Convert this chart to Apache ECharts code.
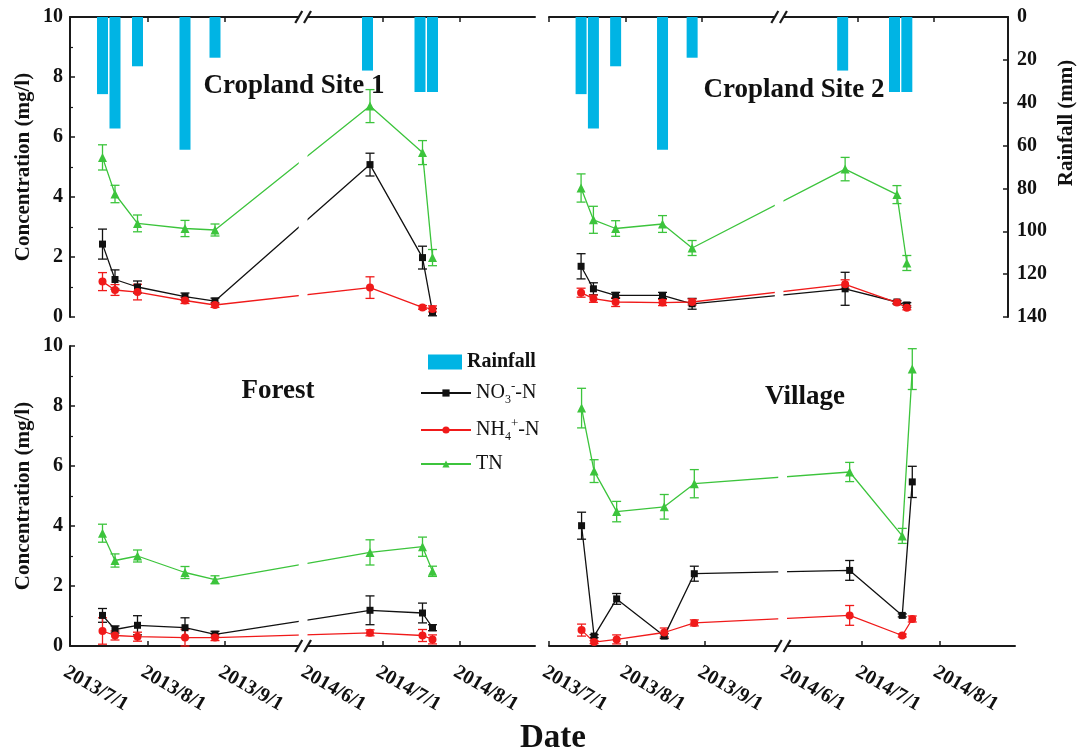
<!DOCTYPE html>
<html><head><meta charset="utf-8">
<script src="https://cdn.jsdelivr.net/npm/echarts@6/dist/echarts.min.js"></script>
<style>html,body{margin:0;padding:0;background:#fff}#c{width:1077px;height:753px}</style>
</head><body><div id="c"></div>
<script>
// ---------------- data ----------------
const SAMPLE_DATES = ['2013/7/14','2013/7/19','2013/7/28','2013/8/16','2013/8/28','2014/6/26','2014/7/17','2014/7/21'];
const RAIN_DATES   = ['2013/7/14','2013/7/19','2013/7/28','2013/8/16','2013/8/28','2014/6/25','2014/7/16','2014/7/21'];
const RAINFALL     = [36, 52, 23, 62, 19, 25, 35, 35];
const TICK_LABELS  = ['2013/7/1','2013/8/1','2013/9/1','2014/6/1','2014/7/1','2014/8/1'];
const TICK_MARKS   = ['2013/7/1','2013/8/1','2013/9/1','2014/7/1','2014/8/1'];
const AXIS_START = '2013/7/1', AXIS_END = '2014/8/31';
const BREAK_FROM = '2013/10/1', BREAK_TO = '2014/6/1', BREAK_GAP_DAYS = 3;
const PANEL_TITLES = ['Cropland Site 1','Cropland Site 2','Forest','Village'];

// Cropland Site 1
const C1_NO3 = [2.43, 1.25, 1.00, 0.68, 0.53, 5.08, 1.98, 0.16];
const C1_NO3_ERR = [0.50, 0.32, 0.20, 0.12, 0.10, 0.38, 0.38, 0.12];
const C1_NH4 = [1.18, 0.90, 0.83, 0.55, 0.40, 0.98, 0.32, 0.27];
const C1_NH4_ERR = [0.30, 0.18, 0.26, 0.10, 0.08, 0.36, 0.06, 0.10];
const C1_TN = [5.32, 4.10, 3.12, 2.95, 2.90, 7.03, 5.48, 1.98];
const C1_TN_ERR = [0.42, 0.29, 0.28, 0.27, 0.20, 0.55, 0.40, 0.27];
// Cropland Site 2
const C2_NO3 = [1.69, 0.94, 0.72, 0.72, 0.44, 0.94, 0.50, 0.40];
const C2_NO3_ERR = [0.42, 0.20, 0.10, 0.10, 0.18, 0.55, 0.05, 0.08];
const C2_NH4 = [0.81, 0.61, 0.50, 0.48, 0.50, 1.09, 0.48, 0.31];
const C2_NH4_ERR = [0.15, 0.12, 0.15, 0.10, 0.10, 0.15, 0.05, 0.07];
const C2_TN = [4.30, 3.24, 2.95, 3.10, 2.30, 4.93, 4.08, 1.80];
const C2_TN_ERR = [0.47, 0.45, 0.26, 0.28, 0.25, 0.39, 0.30, 0.25];
// Forest
const FO_NO3 = [1.02, 0.55, 0.69, 0.61, 0.39, 1.19, 1.10, 0.61];
const FO_NO3_ERR = [0.23, 0.12, 0.32, 0.33, 0.10, 0.48, 0.33, 0.10];
const FO_NH4 = [0.50, 0.35, 0.31, 0.28, 0.28, 0.44, 0.35, 0.22];
const FO_NH4_ERR = [0.44, 0.15, 0.15, 0.28, 0.10, 0.10, 0.20, 0.15];
const FO_TN = [3.76, 2.85, 3.00, 2.45, 2.21, 3.12, 3.31, 2.49];
const FO_TN_ERR = [0.30, 0.22, 0.20, 0.20, 0.13, 0.42, 0.32, 0.17];
// Village
const VI_NO3 = [4.01, 0.33, 1.57, 0.33, 2.41, 2.52, 1.02, 5.47];
const VI_NO3_ERR = [0.45, 0.05, 0.18, 0.08, 0.25, 0.33, 0.05, 0.52];
const VI_NH4 = [0.53, 0.13, 0.22, 0.45, 0.77, 1.02, 0.35, 0.90];
const VI_NH4_ERR = [0.20, 0.05, 0.15, 0.15, 0.10, 0.33, 0.05, 0.10];
const VI_TN = [7.93, 5.83, 4.48, 4.64, 5.41, 5.80, 3.67, 9.23];
const VI_TN_ERR = [0.66, 0.38, 0.34, 0.41, 0.47, 0.32, 0.25, 0.68];

// ---------------- helpers ----------------
const FONT = "'Liberation Serif', 'Times New Roman', serif";
function dayNum(s){ const p = s.split('/').map(Number); return Date.UTC(p[0], p[1]-1, p[2]) / 86400000; }
function toAxis(s){
  const t = dayNum(s), s0 = dayNum(AXIS_START), bf = dayNum(BREAK_FROM), bt = dayNum(BREAK_TO);
  if (t <= bf) return t - s0;
  return (bf - s0) + BREAK_GAP_DAYS + (t - bt);
}
const labelByPos = {};
TICK_LABELS.forEach(l => { labelByPos[Math.round(toAxis(l))] = l; });

const COLORS = { NO3: '#111111', NH4: '#f01a1a', TN: '#3cc43c', RAIN: '#00b4e4' };
const SYMBOLS = { NO3: ['rect', 7], NH4: ['circle', 8], TN: ['triangle', 9] };
const PANELS = [
  { NO3: [C1_NO3, C1_NO3_ERR], NH4: [C1_NH4, C1_NH4_ERR], TN: [C1_TN, C1_TN_ERR] },
  { NO3: [C2_NO3, C2_NO3_ERR], NH4: [C2_NH4, C2_NH4_ERR], TN: [C2_TN, C2_TN_ERR] },
  { NO3: [FO_NO3, FO_NO3_ERR], NH4: [FO_NH4, FO_NH4_ERR], TN: [FO_TN, FO_TN_ERR] },
  { NO3: [VI_NO3, VI_NO3_ERR], NH4: [VI_NH4, VI_NH4_ERR], TN: [VI_TN, VI_TN_ERR] }
];
const grids = [
  { left: 70,  top: 17,  width: 465, height: 300 },
  { left: 549, top: 17,  width: 459, height: 300 },
  { left: 70,  top: 346, width: 465, height: 300 },
  { left: 549, top: 346, width: 466, height: 300 }
];
const CONC_Y = [0, 2, 4, 5], RAIN_Y = [1, 3];

const axisLine = { show: true, onZero: false, lineStyle: { color: '#1a1a1a', width: 2 } };
const tickLbl = { fontFamily: FONT, fontWeight: 'bold', fontSize: 20, color: '#111' };

const xAxes = grids.map((g, i) => ({
  type: 'value', gridIndex: i, min: 0, max: toAxis(AXIS_END),
  position: i < 2 ? 'top' : 'bottom',
  axisLine: axisLine,
  axisTick: { show: true, inside: true, length: 5, customValues: TICK_MARKS.map(toAxis), lineStyle: { color: '#1a1a1a', width: 1.5 } },
  axisLabel: Object.assign({ show: i >= 2, customValues: TICK_LABELS.map(toAxis),
    formatter: v => labelByPos[Math.round(v)] || '',
    rotate: -30, align: 'left', verticalAlign: 'top', margin: 16 }, tickLbl),
  splitLine: { show: false }
}));

function concAxis(grid, shown){
  return {
    type: 'value', gridIndex: grid, min: 0, max: 10, interval: 2, position: 'left', show: shown,
    name: shown ? 'Concentration (mg/l)' : '', nameLocation: 'middle', nameGap: 36, nameRotate: 90,
    nameTextStyle: { fontFamily: FONT, fontWeight: 'bold', fontSize: 21, color: '#111' },
    axisLine: axisLine,
    axisTick: { show: true, inside: true, length: 5, lineStyle: { color: '#1a1a1a', width: 1.5 } },
    minorTick: { show: true, splitNumber: 2, length: 3, lineStyle: { color: '#1a1a1a', width: 1.2 } },
    axisLabel: Object.assign({ margin: 7 }, tickLbl),
    splitLine: { show: false }
  };
}
const yAxes = [
  concAxis(0, true),
  { type: 'value', gridIndex: 0, min: 0, max: 140, inverse: true, position: 'right', show: false },
  concAxis(1, false),
  { type: 'value', gridIndex: 1, min: 0, max: 140, interval: 20, inverse: true, position: 'right',
    axisLine: axisLine,
    axisTick: { show: true, inside: true, length: 5, lineStyle: { color: '#1a1a1a', width: 1.5 } },
    axisLabel: Object.assign({ margin: 9 }, tickLbl), splitLine: { show: false } },
  concAxis(2, true),
  concAxis(3, false)
];

function errRender(color){
  return function(params, api){
    const x = api.value(0), lo = api.value(1), hi = api.value(2);
    const p1 = api.coord([x, lo]), p2 = api.coord([x, hi]);
    const w = 4.5, st = { stroke: color, lineWidth: 1.3 };
    return { type: 'group', children: [
      { type: 'line', shape: { x1: p1[0], y1: p1[1], x2: p2[0], y2: p2[1] }, style: st },
      { type: 'line', shape: { x1: p1[0]-w, y1: p1[1], x2: p1[0]+w, y2: p1[1] }, style: st },
      { type: 'line', shape: { x1: p2[0]-w, y1: p2[1], x2: p2[0]+w, y2: p2[1] }, style: st }
    ]};
  };
}

const series = [];
RAIN_Y.forEach((yi, i) => {
  series.push({ type: 'bar', name: 'Rainfall', xAxisIndex: i, yAxisIndex: yi, barWidth: 11,
    data: RAIN_DATES.map((d, k) => [toAxis(d), RAINFALL[k]]),
    itemStyle: { color: COLORS.RAIN }, z: 1 });
});
PANELS.forEach((p, i) => {
  ['NO3', 'NH4', 'TN'].forEach(key => {
    const vals = p[key][0], errs = p[key][1];
    series.push({ type: 'custom', name: key + ' error', xAxisIndex: i, yAxisIndex: CONC_Y[i],
      renderItem: errRender(COLORS[key]), encode: { x: 0, y: [1, 2] },
      data: SAMPLE_DATES.map((d, k) => [toAxis(d), vals[k] - errs[k], vals[k] + errs[k]]), z: 3 });
    series.push({ type: 'line', name: key, xAxisIndex: i, yAxisIndex: CONC_Y[i],
      data: SAMPLE_DATES.map((d, k) => [toAxis(d), vals[k]]),
      symbol: SYMBOLS[key][0], symbolSize: SYMBOLS[key][1], showAllSymbol: true,
      itemStyle: { color: COLORS[key] }, lineStyle: { color: COLORS[key], width: 1.3 }, z: 4 });
  });
});

const LEGEND_TEXT = { NO3: '{m|NO}{sb|3}{sp|-}{m|-N}', NH4: '{m|NH}{sb|4}{sp|+}{m|-N}', TN: '{m|TN}' };
const rich = {
  m:  { fontFamily: FONT, fontSize: 20, lineHeight: 26, verticalAlign: 'middle', color: '#111' },
  sb: { fontFamily: FONT, fontSize: 12, lineHeight: 26, verticalAlign: 'bottom', color: '#111' },
  sp: { fontFamily: FONT, fontSize: 13, lineHeight: 26, verticalAlign: 'top', color: '#111' }
};

const option = {
  animation: false,
  backgroundColor: '#fff',
  grid: grids,
  xAxis: xAxes,
  yAxis: yAxes,
  legend: [
    { data: ['Rainfall'], left: 428, top: 352, padding: 0, icon: 'rect', itemWidth: 34, itemHeight: 15,
      selectedMode: false, textStyle: { fontFamily: FONT, fontWeight: 'bold', fontSize: 20, color: '#111' } },
    { data: ['NO3', 'NH4', 'TN'], orient: 'vertical', left: 420, top: 380, padding: 0,
      itemWidth: 50, itemHeight: 9, itemGap: 11, selectedMode: false,
      formatter: n => LEGEND_TEXT[n], textStyle: { fontFamily: FONT, fontSize: 20, color: '#111', rich: rich } }
  ],
  series: series
};

const chart = echarts.init(document.getElementById('c'), null, { renderer: 'canvas' });
chart.setOption(option);

// break marks and texts
const gfx = [];
grids.forEach((g, i) => {
  const xa = chart.convertToPixel({ xAxisIndex: i }, toAxis(BREAK_FROM) - 0.5);
  const xb = chart.convertToPixel({ xAxisIndex: i }, toAxis(BREAK_TO));
  const ay = i < 2 ? g.top : g.top + g.height;
  gfx.push({ type: 'rect', silent: true, z: 50, shape: { x: xa, y: g.top - 3, width: xb - xa, height: g.height + 6 }, style: { fill: '#fff' } });
  [xa, xb].forEach(x => gfx.push({ type: 'line', silent: true, z: 51,
    shape: { x1: x - 3.5, y1: ay + 6, x2: x + 3.5, y2: ay - 6 }, style: { stroke: '#1a1a1a', lineWidth: 2.2 } }));
});
const TITLE_POS = [[294, 86], [794, 90], [278, 391], [805, 397]];
PANEL_TITLES.forEach((t, i) => gfx.push({ type: 'text', z: 60, x: TITLE_POS[i][0], y: TITLE_POS[i][1],
  style: { text: t, font: 'bold 27px ' + FONT, fill: '#111', textAlign: 'center', textVerticalAlign: 'middle' } }));
gfx.push({ type: 'text', z: 60, x: 553, y: 738,
  style: { text: 'Date', font: 'bold 33px ' + FONT, fill: '#111', textAlign: 'center', textVerticalAlign: 'middle' } });
gfx.push({ type: 'text', z: 60, x: 1067, y: 123, rotation: Math.PI / 2,
  style: { text: 'Rainfall (mm)', font: 'bold 21px ' + FONT, fill: '#111', textAlign: 'center', textVerticalAlign: 'middle' } });
chart.setOption({ graphic: gfx });
</script></body></html>
